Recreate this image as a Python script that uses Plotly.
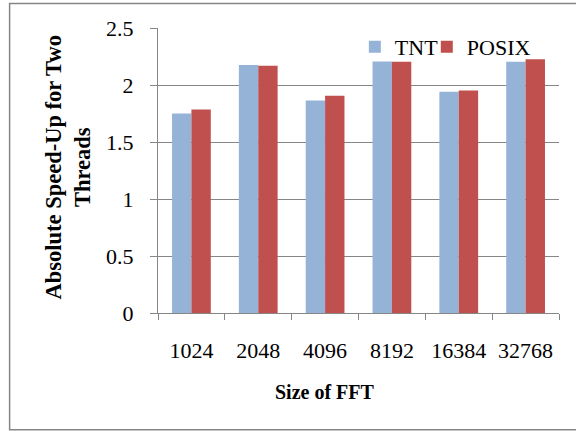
import plotly.graph_objects as go

categories = ["1024", "2048", "4096", "8192", "16384", "32768"]
tnt = [1.75, 2.175, 1.865, 2.206, 1.94, 2.205]
posix = [1.786, 2.168, 1.905, 2.204, 1.952, 2.226]
y_ticks = [0, 0.5, 1, 1.5, 2, 2.5]
y_tick_labels = ["0", "0.5", "1", "1.5", "2", "2.5"]

FONT = "Liberation Serif"

fig = go.Figure()
fig.add_trace(go.Bar(name="TNT", x=categories, y=tnt, marker_color="#95B3D7",
                     marker_line_width=0, legend="legend"))
fig.add_trace(go.Bar(name="POSIX", x=categories, y=posix, marker_color="#C0504D",
                     marker_line_width=0, legend="legend2"))

leg_common = dict(orientation="h", y=1.007, xanchor="left", yanchor="top",
                  font=dict(size=22, family=FONT), bgcolor="rgba(0,0,0,0)",
                  itemwidth=30)

fig.update_layout(
    width=576, height=431,
    margin=dict(l=158, r=17, t=27.5, b=118.3, autoexpand=False),
    paper_bgcolor="white", plot_bgcolor="white",
    font=dict(family=FONT, size=22, color="black"),
    barmode="group", bargap=0.42, bargroupgap=0,
    showlegend=True,
    legend=dict(x=(355 - 158) / 401.3, **leg_common),
    legend2=dict(x=(427 - 158) / 401.3, **leg_common),
)
fig.update_yaxes(range=[0, 2.5], tickvals=y_ticks, ticktext=y_tick_labels,
                 showgrid=True, gridcolor="#868686", gridwidth=1,
                 showline=True, linecolor="#868686", linewidth=1,
                 ticks="outside", ticklen=7, tickcolor="#868686",
                 ticklabelstandoff=12, zeroline=False,
                 tickfont=dict(size=22, family=FONT))
fig.update_xaxes(type="category", showline=True, linecolor="#868686", linewidth=1,
                 ticks="outside", tickson="boundaries", ticklen=6, tickcolor="#868686",
                 ticklabelstandoff=18, showgrid=False,
                 tickfont=dict(size=22, family=FONT))

fig.add_annotation(text="<b>Absolute Speed-Up for Two<br>Threads</b>", textangle=-90,
                   xref="paper", yref="paper",
                   x=(68 - 158) / 401.3, y=(312.7 - 167) / 285.2,
                   xanchor="center", yanchor="middle", showarrow=False,
                   font=dict(size=22.5, family=FONT))
fig.add_annotation(text="<b>Size of FFT</b>", xref="paper", yref="paper",
                   x=(325 - 158) / 401.3, y=(312.7 - 392) / 285.2,
                   xanchor="center", yanchor="middle", showarrow=False,
                   font=dict(size=20, family=FONT))

# outer chart border drawn as a rectangle in paper coordinates
fig.add_shape(type="rect", xref="paper", yref="paper",
              x0=(9.5 - 158) / 401.3, x1=(585 - 158) / 401.3,
              y0=(312.7 - 429.5) / 285.2, y1=(312.7 - 3.0) / 285.2,
              line=dict(color="#868686", width=1.5), fillcolor="rgba(0,0,0,0)",
              layer="above")

post = (
    "document.body.style.margin='0';"
    "document.body.style.overflow='hidden';"
    "document.documentElement.style.overflow='hidden';"
    "window.scrollTo(0,0);"
)
fig.write_html("out.html", config={"displayModeBar": False}, post_script=post)
